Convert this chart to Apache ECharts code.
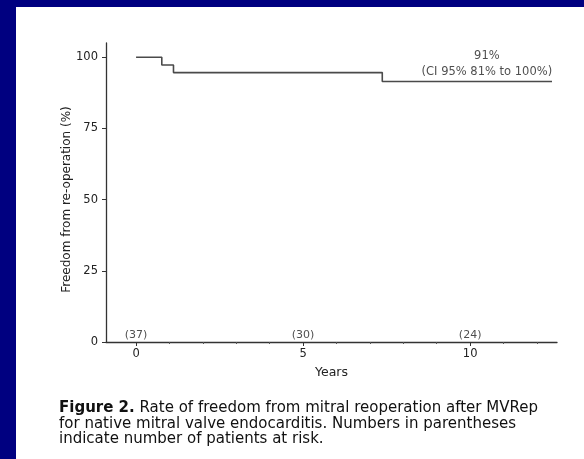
<!DOCTYPE html>
<html>
<head>
<meta charset="utf-8">
<script src="https://cdn.jsdelivr.net/npm/echarts@6/dist/echarts.min.js"></script>
<style>
html,body{margin:0;padding:0;background:#fff;}
#c{width:584px;height:459px;}
</style>
</head>
<body>
<div id="c"></div>
<script>
// Kaplan-Meier step curve (years, % free from re-operation)
const curveYears = [0, 0.77, 1.12, 7.37, 12.45];
const curveValues = [100, 97.3, 94.6, 91.5, 91.5];
// Patients at risk
const riskYears = [0, 5, 10];
const riskCounts = [37, 30, 24];
// Tick labels
const xTicks = [0, 5, 10];
const xMinorTicks = [1, 2, 3, 4, 6, 7, 8, 9, 11, 12];
const yTicks = [0, 25, 50, 75, 100];
// Final estimate annotation
const finalLabel = ['91%', '(CI 95% 81% to 100%)'];
const finalLabelPos = [10.5, 91.5];

const font = 'DejaVu Sans';
const chart = echarts.init(document.getElementById('c'));
chart.setOption({
  animation: false,
  backgroundColor: '#ffffff',
  textStyle: { fontFamily: font },
  title: {
    left: 54, top: 395.5,
    text: '{b|Figure 2.} {n|Rate of freedom from mitral reoperation after MVRep}\n{n|for native mitral valve endocarditis. Numbers in parentheses}\n{n|indicate number of patients at risk.}',
    textStyle: {
      fontFamily: font, fontWeight: 'normal', fontSize: 15,
      lineHeight: 15.5,
      rich: {
        b: { fontFamily: font, fontSize: 15, fontWeight: 'bold', color: '#111', lineHeight: 15.5 },
        n: { fontFamily: font, fontSize: 15, fontWeight: 'normal', color: '#111', lineHeight: 15.5 }
      }
    }
  },
  graphic: [
    { type: 'rect', left: 0, top: 0, shape: { width: 584, height: 7 }, style: { fill: '#000080' }, silent: true },
    { type: 'rect', left: 0, top: 0, shape: { width: 16, height: 459 }, style: { fill: '#000080' }, silent: true }
  ],
  grid: { left: 106, right: 27, top: 43, bottom: 117 },
  xAxis: [{
    type: 'value', min: -0.9, max: 12.6,
    name: 'Years', nameLocation: 'middle', nameGap: 24, nameMoveOverlap: false,
    nameTextStyle: { fontFamily: font, fontSize: 12.5, color: '#222' },
    axisLine: { show: true, onZero: false, lineStyle: { color: '#333', width: 1.3 } },
    axisTick: { show: true, length: 4, customValues: xTicks, lineStyle: { color: '#333' } },
    axisLabel: { customValues: xTicks, fontFamily: font, fontSize: 11.5, color: '#222', margin: 6 },
    splitLine: { show: false }
  }, {
    type: 'value', min: -0.9, max: 12.6, position: 'bottom',
    axisLine: { show: false, onZero: false },
    axisTick: { show: true, length: 2, customValues: xMinorTicks, lineStyle: { color: '#555' } },
    axisLabel: { show: false },
    splitLine: { show: false }
  }],
  yAxis: {
    type: 'value', min: 0, max: 105,
    name: 'Freedom from re-operation (%)', nameLocation: 'middle', nameGap: 33, nameMoveOverlap: false,
    nameTextStyle: { fontFamily: font, fontSize: 12, color: '#222', padding: [0, 14, 0, 0] },
    axisLine: { show: true, onZero: false, lineStyle: { color: '#333', width: 1.3 } },
    axisTick: { show: true, length: 4, customValues: yTicks, lineStyle: { color: '#333' } },
    axisLabel: { customValues: yTicks, fontFamily: font, fontSize: 11.5, color: '#222', margin: 8 },
    splitLine: { show: false }
  },
  series: [{
    type: 'line', step: 'end', xAxisIndex: 0,
    data: curveYears.map((x, i) => [x, curveValues[i]]),
    symbol: 'none',
    lineStyle: { color: '#4a4a4a', width: 1.6 }
  }, {
    type: 'scatter', xAxisIndex: 0, symbolSize: 0,
    data: riskYears.map((x, i) => [x, 0, riskCounts[i]]),
    label: {
      show: true, position: 'top', distance: 1,
      formatter: p => '(' + p.value[2] + ')',
      fontFamily: font, fontSize: 11, color: '#222'
    }
  }, {
    type: 'scatter', xAxisIndex: 0, symbolSize: 0,
    data: [finalLabelPos],
    label: {
      show: true, position: 'top', distance: 1,
      formatter: () => finalLabel.join('\n'),
      fontFamily: font, fontSize: 11.5, lineHeight: 16, color: '#222', align: 'center'
    }
  }]
});
</script>
</body>
</html>
